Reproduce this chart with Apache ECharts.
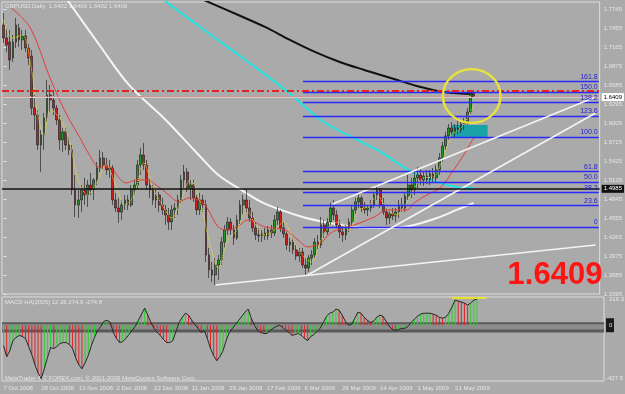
<!DOCTYPE html>
<html><head><meta charset="utf-8">
<script src="https://cdn.jsdelivr.net/npm/echarts@6/dist/echarts.min.js"></script>
<style>html,body{margin:0;padding:0;background:#aaaaaa;}#c{width:625px;height:394px;}</style>
</head><body><div id="c"></div><script>
// ---------- DATA ----------
const tickLabels = ['7 Oct 2008','28 Oct 2008','13 Nov 2008','2 Dec 2008','22 Dec 2008','11 Jan 2009','29 Jan 2009','17 Feb 2009','6 Mar 2009','26 Mar 2009','14 Apr 2009','1 May 2009','21 May 2009'];
const opens = [1.7501,1.7302,1.7241,1.6997,1.7241,1.7455,1.7272,1.7333,1.7150,1.7027,
1.6234,1.6127,1.5669,1.5822,1.6081,1.6432,1.6356,1.6234,1.6051,1.5746,
1.5868,1.5669,1.5593,1.4983,1.4754,1.4830,1.4983,1.4906,1.5059,1.4983,
1.5135,1.5318,1.5471,1.5364,1.5288,1.5318,1.4830,1.4708,1.4647,1.4754,
1.4830,1.4754,1.4983,1.5059,1.5364,1.5517,1.5364,1.5059,1.4983,1.4830,
1.4906,1.4754,1.4678,1.4601,1.4494,1.4678,1.4708,1.4830,1.5135,1.5257,
1.5013,1.5059,1.4861,1.4678,1.4830,1.4754,1.3991,1.3762,1.3685,1.3838,
1.3914,1.4189,1.4372,1.4494,1.4372,1.4250,1.4525,1.4754,1.4830,1.4708,
1.4555,1.4403,1.4296,1.4281,1.4326,1.4281,1.4372,1.4326,1.4525,1.4647,
1.4403,1.4311,1.4143,1.4189,1.4067,1.3975,1.4036,1.3838,1.3792,1.3945,
1.3991,1.4189,1.4143,1.4449,1.4342,1.4494,1.4708,1.4601,1.4449,1.4342,
1.4296,1.4403,1.4494,1.4678,1.4800,1.4861,1.4708,1.4678,1.4708,1.4754,
1.4906,1.4983,1.4754,1.4647,1.4555,1.4616,1.4586,1.4647,1.4754,1.4708,
1.4891,1.5059,1.4983,1.5166,1.5212,1.5135,1.5196,1.5135,1.5227,1.5166,
1.5288,1.5471,1.5654,1.5807,1.5929,1.5868,1.5929,1.5898,1.5990,1.6020,
1.6173,1.6463];
const highs = [1.7684,1.7455,1.7424,1.7348,1.7607,1.7516,1.7424,1.7424,1.7211,1.7119,
1.6432,1.6203,1.5898,1.6158,1.6661,1.6585,1.6478,1.6280,1.6127,1.5929,
1.5929,1.5791,1.5669,1.5212,1.4983,1.5059,1.5166,1.5135,1.5242,1.5166,
1.5410,1.5593,1.5563,1.5471,1.5440,1.5364,1.4937,1.4861,1.4830,1.4906,
1.4906,1.5059,1.5135,1.5440,1.5624,1.5700,1.5440,1.5166,1.5059,1.4983,
1.4952,1.4861,1.4754,1.4708,1.4754,1.4784,1.4906,1.5212,1.5364,1.5318,
1.5135,1.5135,1.4906,1.4937,1.4906,1.4830,1.4098,1.3884,1.3945,1.3991,
1.4265,1.4449,1.4571,1.4555,1.4449,1.4601,1.4830,1.4906,1.4983,1.4830,
1.4647,1.4494,1.4403,1.4372,1.4403,1.4433,1.4449,1.4601,1.4723,1.4678,
1.4494,1.4342,1.4250,1.4250,1.4143,1.4098,1.4098,1.3945,1.3991,1.4067,
1.4250,1.4296,1.4571,1.4525,1.4555,1.4784,1.4830,1.4678,1.4525,1.4433,
1.4449,1.4555,1.4754,1.4861,1.4952,1.4891,1.4800,1.4754,1.4830,1.4952,
1.5059,1.5013,1.4861,1.4708,1.4678,1.4708,1.4708,1.4830,1.4861,1.4952,
1.5212,1.5166,1.5288,1.5334,1.5318,1.5257,1.5288,1.5288,1.5318,1.5364,
1.5547,1.5715,1.5868,1.5990,1.6020,1.5990,1.6036,1.6051,1.6081,1.6234,
1.6493,1.6493];
const lows = [1.7226,1.7089,1.6814,1.6936,1.7150,1.7165,1.7119,1.7089,1.6890,1.6127,
1.5898,1.5593,1.5257,1.5593,1.6020,1.6173,1.6127,1.5975,1.5593,1.5563,
1.5593,1.5517,1.4906,1.4571,1.4555,1.4647,1.4754,1.4723,1.4906,1.4830,
1.5059,1.5257,1.5288,1.5212,1.5166,1.4754,1.4647,1.4479,1.4525,1.4678,
1.4678,1.4723,1.4906,1.4983,1.5212,1.5288,1.4983,1.4861,1.4754,1.4708,
1.4647,1.4601,1.4449,1.4372,1.4372,1.4555,1.4601,1.4784,1.5013,1.4952,
1.4830,1.4800,1.4601,1.4601,1.4647,1.3884,1.3640,1.3579,1.3533,1.3609,
1.3838,1.4098,1.4296,1.4296,1.4143,1.4220,1.4449,1.4601,1.4647,1.4494,
1.4342,1.4220,1.4189,1.4189,1.4220,1.4220,1.4250,1.4281,1.4449,1.4342,
1.4250,1.4067,1.4036,1.4006,1.3914,1.3884,1.3792,1.3685,1.3731,1.3838,
1.3945,1.4067,1.4098,1.4250,1.4296,1.4449,1.4525,1.4403,1.4250,1.4189,
1.4220,1.4342,1.4433,1.4616,1.4708,1.4647,1.4616,1.4586,1.4647,1.4708,
1.4830,1.4708,1.4601,1.4449,1.4464,1.4525,1.4494,1.4555,1.4647,1.4647,
1.4830,1.4861,1.4906,1.5013,1.5059,1.5044,1.5074,1.5059,1.5105,1.5089,
1.5212,1.5410,1.5593,1.5746,1.5776,1.5791,1.5837,1.5852,1.5898,1.5975,
1.6142,1.6387];
const closes = [1.7302,1.7195,1.6966,1.7241,1.7501,1.7272,1.7333,1.7150,1.6997,1.6234,
1.6127,1.5669,1.5822,1.6081,1.6432,1.6356,1.6234,1.6051,1.5746,1.5868,
1.5669,1.5593,1.4983,1.4754,1.4830,1.4983,1.4906,1.5059,1.4983,1.5135,
1.5318,1.5471,1.5364,1.5288,1.5318,1.4830,1.4708,1.4647,1.4754,1.4830,
1.4754,1.4983,1.5059,1.5364,1.5517,1.5364,1.5059,1.4983,1.4830,1.4906,
1.4754,1.4678,1.4601,1.4494,1.4678,1.4708,1.4830,1.5135,1.5257,1.5013,
1.5059,1.4861,1.4678,1.4830,1.4754,1.3991,1.3762,1.3685,1.3838,1.3914,
1.4189,1.4372,1.4494,1.4372,1.4250,1.4525,1.4754,1.4830,1.4708,1.4555,
1.4403,1.4296,1.4281,1.4326,1.4281,1.4372,1.4326,1.4525,1.4647,1.4403,
1.4311,1.4143,1.4189,1.4067,1.3975,1.4036,1.3838,1.3792,1.3945,1.3991,
1.4189,1.4143,1.4449,1.4342,1.4494,1.4708,1.4601,1.4449,1.4342,1.4296,
1.4403,1.4494,1.4678,1.4800,1.4861,1.4708,1.4678,1.4708,1.4754,1.4906,
1.4983,1.4754,1.4647,1.4555,1.4616,1.4586,1.4647,1.4754,1.4708,1.4891,
1.5059,1.4983,1.5166,1.5212,1.5135,1.5196,1.5135,1.5227,1.5166,1.5288,
1.5471,1.5654,1.5807,1.5929,1.5868,1.5929,1.5898,1.5990,1.6020,1.6173,
1.6448,1.6409];
const macd = [-156,-241,-195,-117,-94,-78,-86,-102,-164,-226,
-303,-365,-411,-334,-249,-171,-179,-164,-140,-133,
-133,-148,-179,-249,-303,-334,-288,-233,-156,-94,
-40,-9,30,38,22,-55,-102,-133,-125,-102,
-71,-40,-9,38,85,131,77,22,-24,-55,
-78,-109,-133,-133,-117,-47,22,61,92,77,
38,7,-24,-55,-40,-102,-179,-233,-272,-241,
-195,-117,-55,-24,7,38,69,100,124,54,
0,-40,-55,-63,-63,-40,-24,-9,0,-16,
-40,-55,-78,-71,-63,-78,-102,-117,-86,-71,
-47,-24,22,69,92,100,124,116,77,30,
0,7,54,100,92,61,38,22,30,61,
77,69,30,-9,-32,-40,-32,-24,-24,-9,
22,46,69,85,92,92,92,85,77,61,
54,61,92,139,193,185,178,170,154,170,
193,201];
// moving averages as [bar index, price]
const whiteMA = [[20.5,1.7882],[30.8,1.7195],[40.3,1.6585],[52.1,1.6051],[62.7,1.5517],[69.0,1.5212],[76.4,1.4983],[82.8,1.4800],[89.1,1.4678],[96.1,1.4571],[103.2,1.4494],[110.5,1.4433],[116.9,1.4403],[124.9,1.4403],[131.9,1.4449],[139.2,1.4555],[145.6,1.4678],[151.0,1.4784]];
const blackMA = [[64.3,1.7882],[75.4,1.7653],[84.0,1.7470],[92.0,1.7272],[100.0,1.7089],[108.0,1.6936],[115.9,1.6814],[123.3,1.6707],[126.5,1.6661],[132.8,1.6570],[141.4,1.6478],[151.0,1.6448]];
const cyanMA = [[51.5,1.7882],[65.8,1.7378],[78.6,1.6936],[91.4,1.6478],[101.9,1.6051],[110.5,1.5822],[120.1,1.5593],[126.5,1.5395],[132.8,1.5212],[140.2,1.5089],[145.6,1.5028],[151.0,1.5013]];
const redMA = [[2.1,1.7775],[8.4,1.7470],[14.8,1.6707],[18.0,1.6356],[21.2,1.6051],[24.4,1.5791],[27.6,1.5517],[30.8,1.5334],[34.0,1.5334],[37.1,1.5166],[39.4,1.5089],[42.6,1.5135],[45.8,1.5135],[49.9,1.5028],[53.1,1.4906],[56.3,1.4800],[59.5,1.4861],[62.7,1.4830],[65.2,1.4723],[69.0,1.4418],[72.2,1.4372],[75.4,1.4433],[78.6,1.4525],[84.0,1.4418],[90.4,1.4372],[94.6,1.4220],[97.8,1.4113],[101.9,1.4174],[105.1,1.4326],[109.0,1.4403],[112.7,1.4449],[119.1,1.4571],[123.3,1.4678],[129.6,1.4678],[131.9,1.4784],[136.0,1.4906],[140.2,1.5013],[144.6,1.5288],[147.8,1.5517],[151.0,1.5776]];
const yellowMA = [[0,1.7577],[3,1.7302],[6,1.7348],[9,1.6814],[11,1.6127],[13,1.5822],[15,1.6203],[18,1.6081],[21,1.5746],[24,1.5135],[27,1.4906],[30,1.5105],[33,1.5364],[36,1.5059],[39,1.4754],[42,1.4906],[45,1.5395],[48,1.5013],[51,1.4754],[54,1.4555],[57,1.4830],[60,1.5135],[63,1.4830],[66,1.4220],[69,1.3792],[72,1.4220],[75,1.4372],[78,1.4678],[81,1.4449],[84,1.4296],[87,1.4372],[90,1.4494],[93,1.4220],[96,1.3991],[99,1.3884],[102,1.4220],[105,1.4449],[108,1.4494],[111,1.4372],[114,1.4678],[117,1.4723],[120,1.4891],[123,1.4708],[126,1.4601],[129,1.4754],[132,1.5013],[135,1.5166],[138,1.5181],[141,1.5440],[144,1.5822],[147,1.5929],[150,1.6173],[151,1.6280]];
// fibonacci levels
const fibLevels = ['0','23.6','38.2','50.0','61.8','100.0','123.6','138.2','150.0','161.8'];
const fibPrices = [1.4418,1.4742,1.4943,1.5105,1.5267,1.5791,1.6115,1.6316,1.6478,1.6640];
const fibRange = [96.2, 191.2];
// trendlines [bar index, price]
const trendA = [[68.1,1.3533],[190.2,1.4143]];
const trendB = [[97.7,1.3685],[190.2,1.6158]];
const trendC = [[105.7,1.4769],[190.2,1.6402]];
// horizontal levels
const redLevel = 1.6493, pinkLevel = 1.6443, bidPrice = 1.6409, blackLevel = 1.4985;
// annotations (data units)
const ellipseSpec = [150.4, 1.6417, 9.25, 0.041];
const cyanBox = [[144.0, 1.5975],[155.5, 1.5776]];
const yellowMacdSeg = [[143, 212],[154, 212]];
const priceAxis = {min: 1.3395, max: 1.7851, interval: 0.029};
const macdAxis = {min: -427.5, max: 216.3};

// ---------- CHART ----------
const N = 192;
const cats = []; for (let i = 0; i < N; i++) cats.push(String(i));
const candle = closes.map((c, i) => [opens[i], c, lows[i], highs[i]]);
const macdBars = macd.map((v, i) => ({value: v, itemStyle: {color: (i > 0 && v < macd[i-1]) ? '#e02828' : '#2ad42a'}}));
const FONT = '"Liberation Sans",Arial,sans-serif';
const LIGHT = '#e6e6e6';

function ma(data, color, width, type, z) {
  return {type: 'line', xAxisIndex: 1, yAxisIndex: 0, data, symbol: 'none', smooth: 0.35,
    lineStyle: {color, width, type}, silent: true, z: z || 2, animation: false};
}
const fibItems = fibLevels.map((lv, k) => [
  {coord: [fibRange[0], fibPrices[k]], lineStyle: {color: '#2a2aff', width: 1.4, type: 'solid'},
   label: {show: true, position: 'insideEndTop', formatter: lv, color: '#2222cc', fontSize: 7, fontFamily: FONT, distance: 1}},
  {coord: [fibRange[1], fibPrices[k]]}
]);
const tl = (t) => [{coord: t[0], lineStyle: {color: '#f4f4f4', width: 1.6, type: 'solid'}, label: {show: false}}, {coord: t[1]}];

const whiteSeries = ma(whiteMA, '#f6f6f6', 2, 'solid', 2);
whiteSeries.markLine = {symbol: ['none', 'none'], silent: true, animation: false, label: {show: false},
  data: [...fibItems, tl(trendA), tl(trendB), tl(trendC),
    {yAxis: redLevel, lineStyle: {color: '#e02424', width: 2, type: [7, 3, 2, 3]}, label: {show: false}},
    {yAxis: pinkLevel, lineStyle: {color: '#d68e8e', width: 2, type: [5, 3]}, label: {show: false}},
    {yAxis: bidPrice, lineStyle: {color: '#cdcdcd', width: 1, type: 'solid'},
     label: {show: true, position: 'end', formatter: '1.6409', backgroundColor: '#ffffff', color: '#000', fontSize: 6, fontFamily: FONT, padding: [1, 2, 1, 2], distance: 2}},
    {yAxis: blackLevel, lineStyle: {color: '#111111', width: 1.5, type: 'solid'},
     label: {show: true, position: 'end', formatter: '1.4985', backgroundColor: '#111111', color: '#fff', fontSize: 6, fontFamily: FONT, padding: [1, 2, 1, 2], distance: 2}}
  ]};
const redSeries = ma(redMA, '#e83a3a', 1, 'solid', 4);
redSeries.markArea = {silent: true, itemStyle: {color: '#19a3a8'}, data: [[{coord: cyanBox[0]}, {coord: cyanBox[1]}]]};

const option = {
  animation: false,
  backgroundColor: '#aaaaaa',
  grid: [
    {left: 2, top: 2, width: 602, height: 292, show: true, borderColor: '#dcdcdc', borderWidth: 1, backgroundColor: 'transparent'},
    {left: 2, top: 297, width: 602, height: 84, show: true, borderColor: '#dcdcdc', borderWidth: 1, backgroundColor: 'transparent'}
  ],
  xAxis: [
    {type: 'category', gridIndex: 0, data: cats, boundaryGap: true, show: false},
    {type: 'value', gridIndex: 0, min: -0.5, max: N - 0.5, show: false},
    {type: 'category', gridIndex: 1, data: cats, boundaryGap: true,
     axisLine: {show: false}, axisTick: {show: false}, splitLine: {show: false},
     axisLabel: {interval: (i) => i % 12 === 0 && i / 12 < tickLabels.length, formatter: (v, i) => tickLabels[i / 12] || '',
       align: 'left', color: LIGHT, fontSize: 6, fontFamily: FONT, margin: 4}}
  ],
  yAxis: [
    {type: 'value', gridIndex: 0, position: 'right', min: priceAxis.min, max: priceAxis.max, interval: priceAxis.interval,
     splitLine: {show: false}, axisLine: {show: false}, axisTick: {show: true, length: 3, lineStyle: {color: LIGHT}},
     axisLabel: {color: LIGHT, fontSize: 6, fontFamily: FONT, margin: 4, showMaxLabel: false, formatter: (v) => v.toFixed(4)}},
    {type: 'value', gridIndex: 1, min: macdAxis.min, max: macdAxis.max, show: false}
  ],
  series: [
    whiteSeries,
    ma(blackMA, '#111111', 2, 'solid', 2),
    ma(cyanMA, '#22e2e2', 2, 'solid', 2),
    redSeries,
    ma(yellowMA, '#ece424', 1, 'dotted', 4),
    {type: 'candlestick', xAxisIndex: 0, yAxisIndex: 0, data: candle, barWidth: 2.2, z: 3, silent: true,
     itemStyle: {color: '#1e9a1e', color0: '#cc1c1c', borderColor: '#262626', borderColor0: '#262626', borderWidth: 0.7}},
    {type: 'bar', xAxisIndex: 2, yAxisIndex: 1, data: macdBars, barWidth: 1, silent: true, z: 3,
     markArea: {silent: true, data: [
       [{yAxis: 22, itemStyle: {color: '#5a5a5a'}}, {yAxis: -55}],
       [{yAxis: 8, itemStyle: {color: '#8e8e8e'}}, {yAxis: -32}]]},
     markLine: {symbol: ['none', 'none'], silent: true, label: {show: false},
       data: [[{coord: yellowMacdSeg[0], lineStyle: {color: '#e8e030', width: 2, type: 'solid'}}, {coord: yellowMacdSeg[1]}]]}},
    {type: 'line', xAxisIndex: 2, yAxisIndex: 1, data: macd, symbol: 'none', lineStyle: {color: '#262626', width: 1}, silent: true, z: 4}
  ]
};
const chart = echarts.init(document.getElementById('c'));
chart.setOption(option);

const c0 = chart.convertToPixel({seriesIndex: 0}, [ellipseSpec[0], ellipseSpec[1]]);
const c1 = chart.convertToPixel({seriesIndex: 0}, [ellipseSpec[0] + ellipseSpec[2], ellipseSpec[1] + ellipseSpec[3]]);
const rx = Math.abs(c1[0] - c0[0]), ry = Math.abs(c1[1] - c0[1]);
const my = (v) => chart.convertToPixel({seriesIndex: 6}, [0, v])[1];
chart.setOption({graphic: [
  {type: 'circle', x: c0[0], y: c0[1], scaleY: ry / rx, shape: {cx: 0, cy: 0, r: rx}, z: 50,
   style: {fill: 'none', stroke: '#e8e23c', lineWidth: 2.5, strokeNoScale: true}},
  {type: 'text', x: 5, y: 3, z: 50, style: {text: 'GBPUSD,Daily  1.6402 1.6409 1.6402 1.6409', fill: LIGHT, font: '6px ' + FONT}},
  {type: 'text', x: 5, y: 299, z: 50, style: {text: 'MACD HA(2005) 12 26 274.8 -274.8', fill: LIGHT, font: '6px ' + FONT}},
  {type: 'text', x: 5, y: 375, z: 50, style: {text: 'MetaTrader 4 \u00a9 FOREX.com, \u00a9 2001-2009 MetaQuotes Software Corp.', fill: LIGHT, font: '6px ' + FONT}},
  {type: 'text', x: 555, y: 275, z: 50, style: {text: '1.6409', fill: '#ff1414', font: 'bold 31px "Liberation Sans",Arial,sans-serif', align: 'center', verticalAlign: 'middle'}},
  {type: 'text', x: 609, y: my(macdAxis.max) + 2, z: 50, style: {text: '216.3', fill: LIGHT, font: '6px ' + FONT, verticalAlign: 'middle'}},
  {type: 'rect', shape: {x: 606, y: my(0) - 7, width: 8, height: 14}, z: 49, style: {fill: '#1a1a1a'}},
  {type: 'text', x: 609, y: my(0), z: 50, style: {text: '0', fill: LIGHT, font: '6px ' + FONT, verticalAlign: 'middle'}},
  {type: 'text', x: 606, y: my(macdAxis.min) - 3, z: 50, style: {text: '-427.5', fill: LIGHT, font: '6px ' + FONT, verticalAlign: 'middle'}}
]});
</script></body></html>
